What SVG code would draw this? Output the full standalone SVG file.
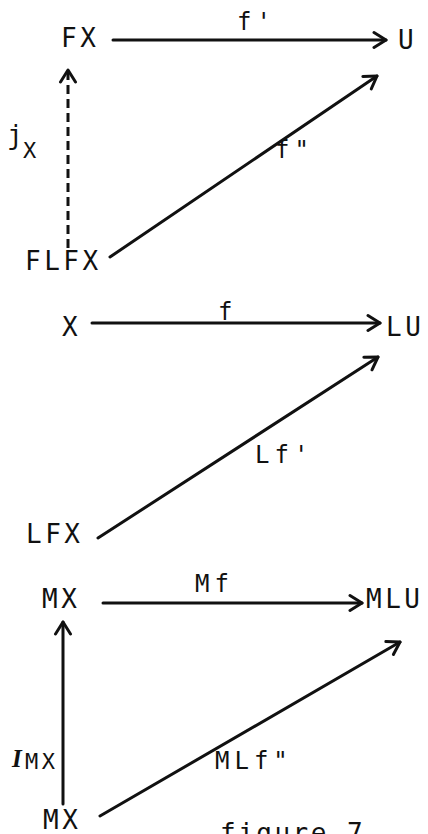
<svg xmlns="http://www.w3.org/2000/svg" width="428" height="834" viewBox="0 0 428 834">
<defs>
<style>
text{font-family:"DejaVu Sans Mono","Liberation Mono",monospace;fill:#111;}
.n{font-size:26px;letter-spacing:3.5px;}
.l{font-size:24px;letter-spacing:5px;}
.s{font-size:22px;letter-spacing:3.5px;}
.a{stroke:#111;stroke-width:3;fill:none;stroke-linecap:round;}
.d{stroke-dasharray:9 5;stroke-linecap:butt;}
</style>
<marker id="ah" markerUnits="userSpaceOnUse" viewBox="-14 -10 16 20" markerWidth="16" markerHeight="20" refX="0" refY="0" orient="auto">
<path d="M-12,-7.5 L0,0 L-12,7.5" fill="none" stroke="#111" stroke-width="3" stroke-linecap="round" stroke-linejoin="round"/>
</marker>
</defs>
<rect width="428" height="834" fill="#fff"/>
<g id="connectors">
<line class="a" x1="113" y1="40" x2="386" y2="40" marker-end="url(#ah)"/>
<line class="a d" x1="68" y1="248" x2="68" y2="70" marker-end="url(#ah)"/>
<line class="a" x1="110" y1="257" x2="377" y2="76" marker-end="url(#ah)"/>
<line class="a" x1="92" y1="323" x2="380" y2="323" marker-end="url(#ah)"/>
<line class="a" x1="98" y1="538" x2="378" y2="357" marker-end="url(#ah)"/>
<line class="a" x1="103" y1="603" x2="362" y2="603" marker-end="url(#ah)"/>
<line class="a" x1="63" y1="804" x2="63" y2="622" marker-end="url(#ah)"/>
<line class="a" x1="100" y1="816" x2="400" y2="642" marker-end="url(#ah)"/>
</g>
<g id="labels">
<text class="l" x="237" y="30">f'</text>
<text x="7" y="144" font-size="26">j</text>
<text class="s" x="23" y="158">X</text>
<text class="l" x="275" y="158">f"</text>
<text class="l" x="218" y="320">f</text>
<text class="l" x="255" y="463">Lf'</text>
<text class="l" x="195" y="592">Mf</text>
<text x="12" y="767" font-size="25" font-style="italic" font-weight="bold" style="font-family:'Liberation Serif',serif">I</text>
<text class="s" x="25" y="769">MX</text>
<text class="l" x="215" y="769">MLf"</text>
</g>
<g id="node-FX"><text class="n" x="61" y="47">FX</text></g>
<g id="node-U"><text class="n" x="398" y="49">U</text></g>
<g id="node-FLFX"><text class="n" x="25" y="270">FLFX</text></g>
<g id="node-X"><text class="n" x="62" y="336">X</text></g>
<g id="node-LU"><text class="n" x="386" y="336">LU</text></g>
<g id="node-LFX"><text class="n" x="26" y="543">LFX</text></g>
<g id="node-MX-top"><text class="n" x="42" y="608">MX</text></g>
<g id="node-MLU"><text class="n" x="366" y="608">MLU</text></g>
<g id="node-MX-bottom"><text class="n" x="43" y="829">MX</text></g>
<g id="caption"><text class="n" x="220" y="842" style="letter-spacing:2.5px">figure 7</text></g>
</svg>
